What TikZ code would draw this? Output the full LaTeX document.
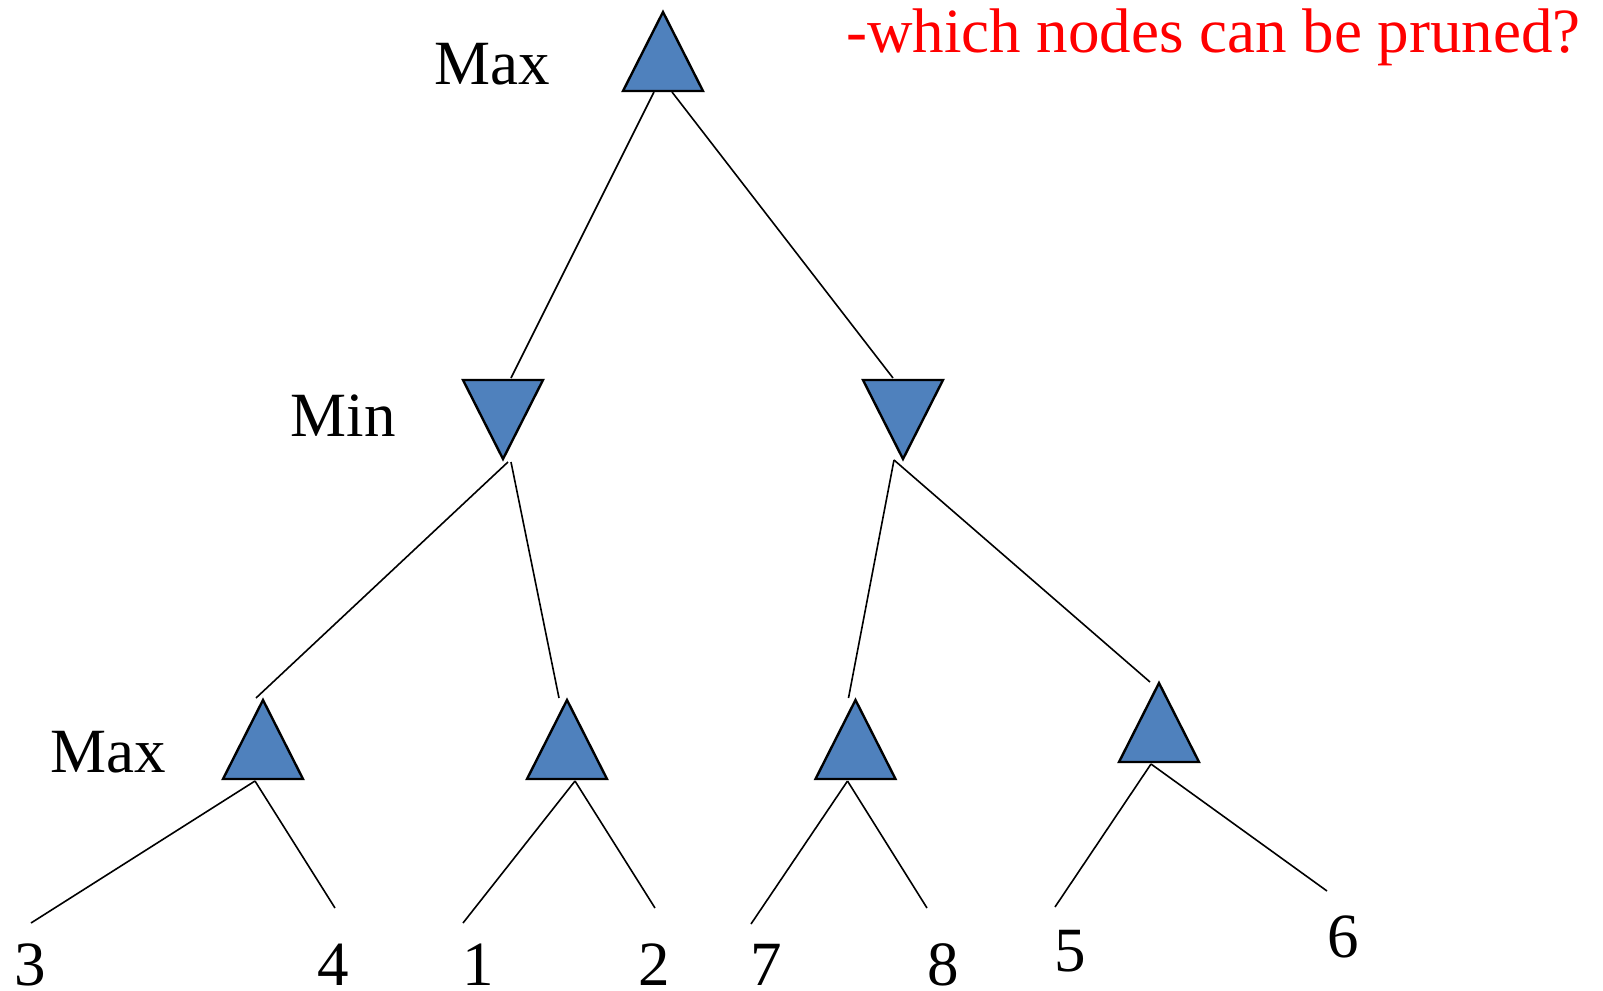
\documentclass[tikz,border=0pt]{standalone}
\usepackage{fontspec}
\setmainfont{Liberation Serif}
\usetikzlibrary{shapes.geometric, calc}
\definecolor{nodeblue}{HTML}{4F81BD}

\begin{document}
\begin{tikzpicture}[
  x=0.5pt, y=-0.5pt,
  font=\fontsize{31.5}{36}\selectfont,
  tri/.style={isosceles triangle, isosceles triangle stretches, draw, fill=nodeblue,
    line width=1.2pt, inner sep=0pt, outer sep=0pt, minimum width=40pt, minimum height=39.5pt},
  maxnode/.style={tri, shape border rotate=90, anchor=apex},
  minnode/.style={tri, shape border rotate=270, anchor=apex},
  lbl/.style={inner sep=0pt, anchor=base},
  edge/.style={line width=0.8pt},
]
\useasboundingbox (0,0) rectangle (1603,991);

% --- level labels and question ---
\node[lbl] (lmax) at (492,84) {Max};
\node[lbl] (lmin) at (343.5,436) {Min};
\node[lbl] (lmaxb) at (108.5,772) {Max};
\node[lbl, text=red] (question) at (1213.5,52) {-which nodes can be pruned?};

% --- tree nodes ---
\node[maxnode] (root) at (663,12) {};
\node[minnode] (minL) at (503,459) {};
\node[minnode] (minR) at (903,459) {};
\node[maxnode] (maxA) at (263,700) {};
\node[maxnode] (maxB) at (567,700) {};
\node[maxnode] (maxC) at (855.5,700) {};
\node[maxnode] (maxD) at (1159,683) {};

% --- leaf values ---
\node[lbl] (v3) at (30,985) {3};
\node[lbl] (v4) at (333.5,985) {4};
\node[lbl] (v1) at (478,985) {1};
\node[lbl] (v2) at (654,985) {2};
\node[lbl] (v7) at (766,985) {7};
\node[lbl] (v8) at (943.5,985) {8};
\node[lbl] (v5) at (1070,971) {5};
\node[lbl] (v6) at (1343,957) {6};

% --- edges ---
\draw[edge] ($(root.lower side)+(-9,1)$) -- ($(minL.lower side)+(8,-2)$);
\draw[edge] ($(root.lower side)+(9,1)$) -- ($(minR.lower side)+(-10,-2)$);
\draw[edge] ($(minL.apex)+(5,3)$) -- ($(maxA.apex)+(-7,-2)$);
\draw[edge] ($(minL.apex)+(8,3)$) -- ($(maxB.apex)+(-8,-2)$);
\draw[edge] ($(minR.apex)+(-9,1)$) -- ($(maxC.apex)+(-7,-2)$);
\draw[edge] ($(minR.apex)+(-9,1)$) -- ($(maxD.apex)+(-9,-1)$);

\draw[edge] ($(maxA.lower side)+(-8,2)$) -- ($(v3.base)+(1,-62)$);
\draw[edge] ($(maxA.lower side)+(-8,2)$) -- ($(v4.base)+(1.5,-77)$);
\draw[edge] ($(maxB.lower side)+(8,2)$) -- ($(v1.base)+(-15,-62)$);
\draw[edge] ($(maxB.lower side)+(8,2)$) -- ($(v2.base)+(1,-77)$);
\draw[edge] ($(maxC.lower side)+(-8,2)$) -- ($(v7.base)+(-15,-61)$);
\draw[edge] ($(maxC.lower side)+(-8,2)$) -- ($(v8.base)+(-16.5,-77)$);
\draw[edge] ($(maxD.lower side)+(-8,2)$) -- ($(v5.base)+(-15,-64)$);
\draw[edge] ($(maxD.lower side)+(-8,2)$) -- ($(v6.base)+(-16,-66)$);

\end{tikzpicture}
\end{document}
